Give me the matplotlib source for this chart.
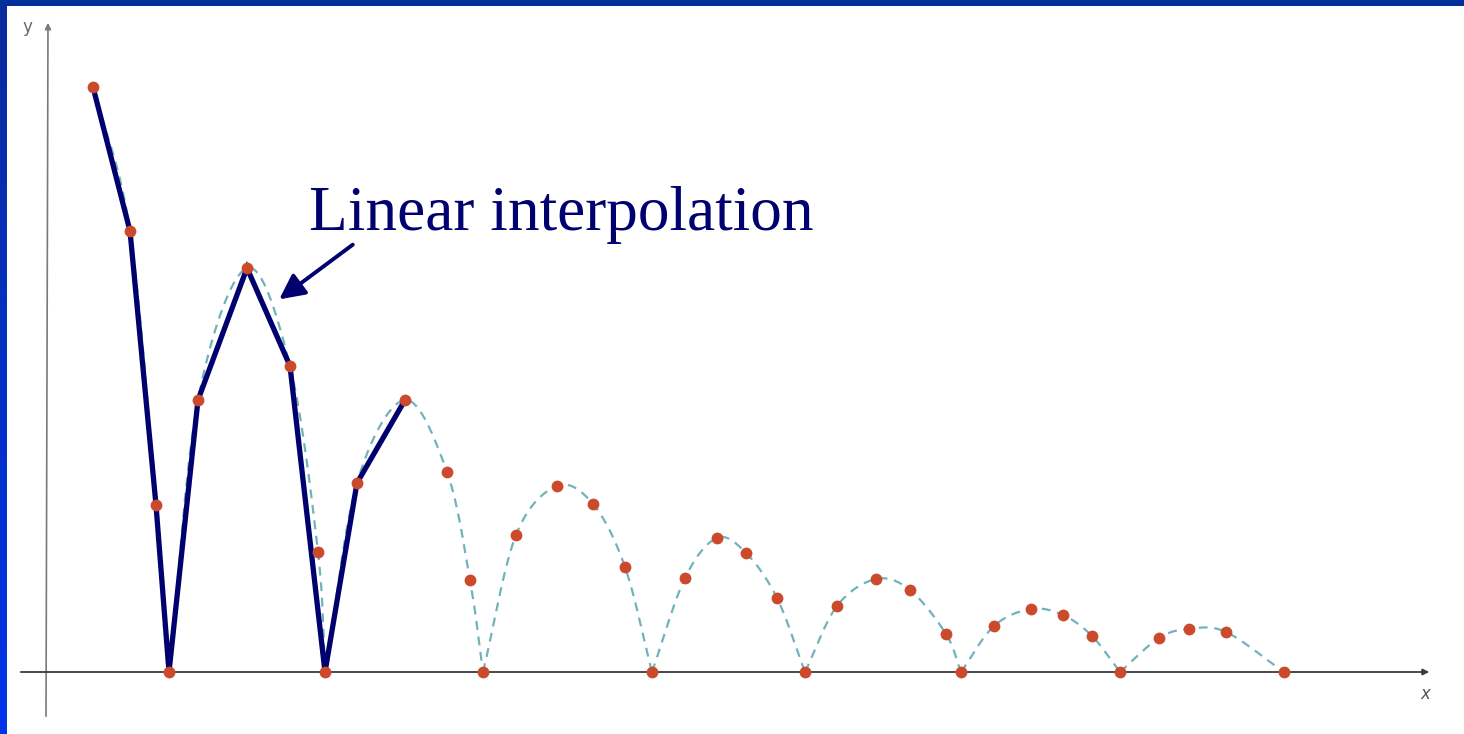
import numpy as np
import matplotlib
matplotlib.use("Agg")
import matplotlib.pyplot as plt

# sampled positions of the bouncing ball (time, height)
t = [45, 82, 108, 121, 150, 199, 242, 270, 277, 309, 357, 399, 422, 435,
     468, 509, 545, 577, 604, 637, 669, 698, 729, 757, 789, 828, 862, 898,
     913, 946, 983, 1015, 1044, 1072, 1111, 1141, 1178, 1236]
h = [585, 441, 167, 0, 272, 404, 306, 120, 0, 189, 272, 200, 92, 0,
     137, 186, 168, 105, 0, 94, 134, 119, 74, 0, 66, 93, 82, 38,
     0, 46, 63, 57, 36, 0, 34, 43, 40, 0]
# samples at which the ball touches the ground
ground_idx = [3, 8, 13, 18, 23, 28, 33, 37]
# samples joined by the linear interpolation
key_idx = [0, 1, 2, 3, 4, 5, 6, 8, 9, 10]

label_text = "Linear interpolation"

navy = "#00006e"
teal = "#72b2ba"
dot_red = "#cc4a2c"


def smooth_arc(px, py, n=30):
    # catmull-rom through the samples of one bounce
    pts = np.column_stack([px, py]).astype(float)
    pts = np.vstack([2 * pts[0] - pts[1], pts, 2 * pts[-1] - pts[-2]])
    out = []
    s = np.linspace(0, 1, n)[:, None]
    for i in range(1, len(pts) - 2):
        p0, p1, p2, p3 = pts[i - 1], pts[i], pts[i + 1], pts[i + 2]
        seg = 0.5 * (2 * p1 + (p2 - p0) * s + (2 * p0 - 5 * p1 + 4 * p2 - p3) * s ** 2
                     + (3 * p1 - p0 - 3 * p2 + p3) * s ** 3)
        out.append(seg)
    out = np.vstack(out)
    return out[:, 0], np.clip(out[:, 1], 0, None)


fig = plt.figure(figsize=(14.64, 7.34), dpi=100)
fig.patch.set_facecolor("white")

# slide frame: dark band on top, blue gradient on the left
bg = fig.add_axes([0, 0, 1, 1], zorder=-5)
bg.set_xlim(0, 1464)
bg.set_ylim(734, 0)
bg.axis("off")
grad = np.linspace(0, 1, 256).reshape(-1, 1)
cmap = matplotlib.colors.LinearSegmentedColormap.from_list("frame", ["#0a2c9c", "#0034ea"])
bg.imshow(grad, extent=(0, 7, 734, 0), cmap=cmap, aspect="auto")
bg.add_patch(plt.Rectangle((0, 0), 1464, 6, color="#00309a", lw=0))

ax = fig.add_axes([0, 0, 1, 1])
ax.set_xlim(-48, 1416)
ax.set_ylim(-62, 672)
ax.axis("off")

# coordinate axes
ax.annotate("", xy=(0, 652), xytext=(-2, -47),
            arrowprops=dict(arrowstyle="-|>", color="#7a7a7a", lw=1.2, mutation_scale=9))
ax.annotate("", xy=(1384, 0), xytext=(-30, 0),
            arrowprops=dict(arrowstyle="-|>", color="#3a3a3a", lw=1.3, mutation_scale=9))
ax.text(-21, 645, "y", color="#666666", fontsize=12, ha="center", va="center")
ax.text(1377, -22, "x", color="#555555", fontsize=12, style="italic", ha="center", va="center")

# dashed curve through the samples, one arc per bounce
starts = [0] + ground_idx[:-1]
for s, e in zip(starts, ground_idx):
    xf, yf = smooth_arc(t[s:e + 1], h[s:e + 1])
    ax.plot(xf, yf, color=teal, lw=1.6, dashes=(4, 3), zorder=1)

# linear interpolation between the first samples
ax.plot([t[i] for i in key_idx], [h[i] for i in key_idx],
        color=navy, lw=3.8, solid_joinstyle="miter", zorder=2)

ax.plot(t, h, "o", color=dot_red, markersize=8.5, markeredgewidth=0, zorder=3)

ax.text(261, 442, label_text, family="Liberation Serif", fontsize=45.5,
        color=navy, ha="left", va="baseline")
ax.annotate("", xy=(229, 371), xytext=(307, 429),
            arrowprops=dict(arrowstyle="-|>", color=navy, lw=2.8, mutation_scale=38))

fig.savefig("out.png", dpi=100)
